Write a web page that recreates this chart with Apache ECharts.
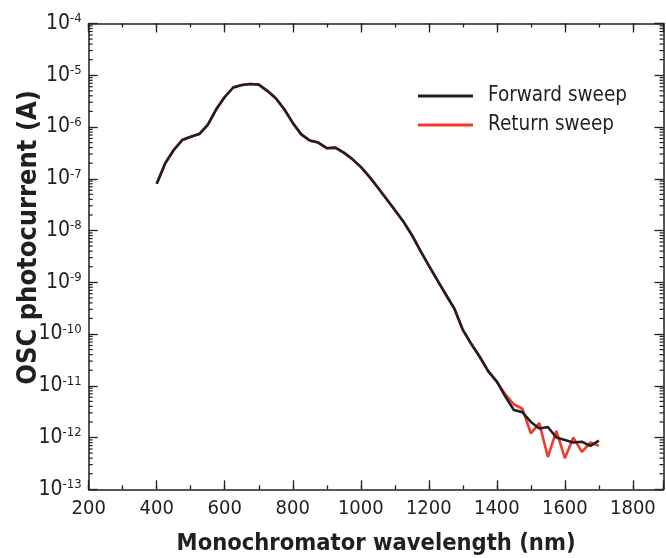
<!DOCTYPE html>
<html>
<head>
<meta charset="utf-8">
<script src="https://cdn.jsdelivr.net/npm/echarts@6/dist/echarts.min.js"></script>
<style>
  html, body { margin: 0; padding: 0; background: #fff; }
  #main { width: 666px; height: 558px; }
</style>
</head>
<body>
<div id="main"></div>
<script>
// wavelength (nm), 25 nm steps
var wavelength = [400, 425, 450, 475, 500, 525, 550, 575, 600, 625, 650, 675, 700, 725, 750, 775, 800,
    825, 850, 875, 900, 925, 950, 975, 1000, 1025, 1050, 1075, 1100, 1125, 1150, 1175, 1200,
    1225, 1250, 1275, 1300, 1325, 1350, 1375, 1400, 1425, 1450, 1475, 1500, 1525, 1550, 1575,
    1600, 1625, 1650, 1675, 1700];

// forward sweep photocurrent (A)
var forwardSweep = [8e-8, 2e-7, 3.6e-7, 5.6e-7, 6.5e-7, 7.3e-7, 1.1e-6, 2.2e-6, 3.8e-6, 5.8e-6, 6.5e-6,
    6.8e-6, 6.6e-6, 5e-6, 3.6e-6, 2.2e-6, 1.2e-6, 7.2e-7, 5.5e-7, 5e-7, 3.9e-7, 4e-7, 3.2e-7,
    2.4e-7, 1.7e-7, 1.1e-7, 6.8e-8, 4.1e-8, 2.5e-8, 1.5e-8, 8.2e-9, 4.1e-9, 2.1e-9, 1.1e-9,
    5.8e-10, 3.1e-10, 1.2e-10, 6.4e-11, 3.6e-11, 1.9e-11, 1.2e-11, 6.2e-12, 3.4e-12, 3.1e-12,
    2e-12, 1.5e-12, 1.6e-12, 1e-12, 9e-13, 8e-13, 8.3e-13, 6.9e-13, 8.7e-13];

// return sweep photocurrent (A)
var returnSweep = [8e-8, 2e-7, 3.6e-7, 5.6e-7, 6.5e-7, 7.3e-7, 1.1e-6, 2.2e-6, 3.8e-6, 5.8e-6, 6.5e-6,
    6.8e-6, 6.6e-6, 5e-6, 3.6e-6, 2.2e-6, 1.2e-6, 7.2e-7, 5.5e-7, 5e-7, 3.9e-7, 4e-7, 3.2e-7,
    2.4e-7, 1.7e-7, 1.1e-7, 6.8e-8, 4.1e-8, 2.5e-8, 1.5e-8, 8.2e-9, 4.1e-9, 2.1e-9, 1.1e-9,
    5.8e-10, 3.1e-10, 1.2e-10, 6.4e-11, 3.6e-11, 1.9e-11, 1.2e-11, 6.8e-12, 4.4e-12, 3.6e-12,
    1.2e-12, 1.9e-12, 4.2e-13, 1.35e-12, 4e-13, 1e-12, 5.3e-13, 8e-13, 6.9e-13];

var seriesNames = ['Forward sweep', 'Return sweep'];

// log minor tick values 2..9 x 10^n
var minorTickValues = [];
for (var e = -13; e < -4; e++) {
    for (var k = 2; k <= 9; k++) {
        minorTickValues.push(k * Math.pow(10, e));
    }
}

var fontFamily = '"Liberation Sans Narrow", "DejaVu Sans Condensed", "Liberation Sans", sans-serif';
var inkColor = '#231f20';

function pairs(xs, ys) {
    return xs.map(function (x, i) { return [x, ys[i]]; });
}

var chart = echarts.init(document.getElementById('main'));

var xAxisBase = {
    type: 'value',
    min: 200,
    max: 1890,
    splitLine: { show: false },
    axisLine: { show: true, onZero: false, lineStyle: { color: inkColor, width: 1.5 } },
    axisTick: { show: true, inside: true, length: 9, lineStyle: { color: inkColor, width: 1.3 } },
    axisLabel: { show: false }
};

var option = {
    animation: false,
    backgroundColor: '#fff',
    grid: { left: 88.7, top: 23.5, right: 2.5, bottom: 68.7, outerBoundsMode: 'none', containLabel: false },
    legend: {
        orient: 'vertical',
        left: 418,
        top: 84,
        padding: 0,
        itemWidth: 55,
        itemHeight: 3,
        itemGap: 5,
        icon: 'rect',
        data: seriesNames,
        textStyle: { fontFamily: fontFamily, fontSize: 20.5, color: inkColor, lineHeight: 24, padding: [0, 0, 0, 10] }
    },
    xAxis: [
        echarts.util.merge({
            position: 'bottom',
            interval: 200,
            name: 'Monochromator wavelength (nm)',
            nameLocation: 'middle',
            nameGap: 43,
            nameMoveOverlap: false,
            nameTextStyle: { fontFamily: fontFamily, fontSize: 23.5, fontWeight: 'bold', color: inkColor },
            axisLabel: {
                show: true, margin: 9, fontFamily: fontFamily, fontSize: 20, color: inkColor,
                formatter: function (v) { return v % 200 === 0 ? String(v) : ''; }
            }
        }, xAxisBase, false),
        echarts.util.merge({ position: 'bottom', interval: 100, axisLine: { show: false }, axisTick: { length: 4 } }, xAxisBase, false),
        echarts.util.merge({ position: 'top', interval: 200 }, xAxisBase, false),
        echarts.util.merge({ position: 'top', interval: 100, axisLine: { show: false }, axisTick: { length: 4 } }, xAxisBase, false)
    ],
    yAxis: [
        {
            type: 'log',
            logBase: 10,
            min: 1e-13,
            max: 1e-4,
            position: 'left',
            name: 'OSC photocurrent (A)',
            nameLocation: 'middle',
            nameGap: 46,
            nameMoveOverlap: false,
            nameTextStyle: { fontFamily: fontFamily, fontSize: 27, fontWeight: 'bold', color: inkColor, padding: [0, 0, 0, 38] },
            splitLine: { show: false },
            axisLine: { show: true, onZero: false, lineStyle: { color: inkColor, width: 1.5 } },
            axisTick: { show: true, inside: true, length: 9, lineStyle: { color: inkColor, width: 1.3 } },
            axisLabel: {
                margin: 7,
                formatter: function (v) {
                    var n = Math.round(Math.log(v) / Math.LN10);
                    return '{b|10}{s|' + n + '}';
                },
                rich: {
                    b: { fontFamily: fontFamily, fontSize: 21, color: inkColor, lineHeight: 22 },
                    s: { fontFamily: fontFamily, fontSize: 13, color: inkColor, lineHeight: 12, verticalAlign: 'top' }
                }
            }
        },
        {
            type: 'log',
            logBase: 10,
            min: 1e-13,
            max: 1e-4,
            position: 'right',
            splitLine: { show: false },
            axisLine: { show: true, onZero: false, lineStyle: { color: inkColor, width: 1.5 } },
            axisTick: { show: true, inside: true, length: 9, lineStyle: { color: inkColor, width: 1.3 } },
            axisLabel: { show: false }
        }
    ],
    series: [
        {
            name: 'Return sweep',
            type: 'line',
            data: pairs(wavelength, returnSweep),
            showSymbol: false,
            smooth: false,
            lineStyle: { color: '#ee3b2b', width: 2.6 },
            itemStyle: { color: '#ee3b2b' }
        },
        {
            name: 'Forward sweep',
            type: 'line',
            data: pairs(wavelength, forwardSweep),
            showSymbol: false,
            smooth: false,
            lineStyle: { color: inkColor, width: 2.6 },
            itemStyle: { color: inkColor }
        },
        {
            // minor ticks of the log axis, left and right
            type: 'custom',
            silent: true,
            clip: false,
            data: minorTickValues.map(function (v) { return [200, v]; }),
            renderItem: function (params, api) {
                var cs = params.coordSys;
                var p = api.coord([200, api.value(1)]);
                var style = { stroke: inkColor, lineWidth: 1.2 };
                return {
                    type: 'group',
                    children: [
                        { type: 'line', shape: { x1: cs.x, y1: p[1], x2: cs.x + 4, y2: p[1] }, style: style },
                        { type: 'line', shape: { x1: cs.x + cs.width, y1: p[1], x2: cs.x + cs.width - 4, y2: p[1] }, style: style }
                    ]
                };
            }
        }
    ]
};

chart.setOption(option);
</script>
</body>
</html>
